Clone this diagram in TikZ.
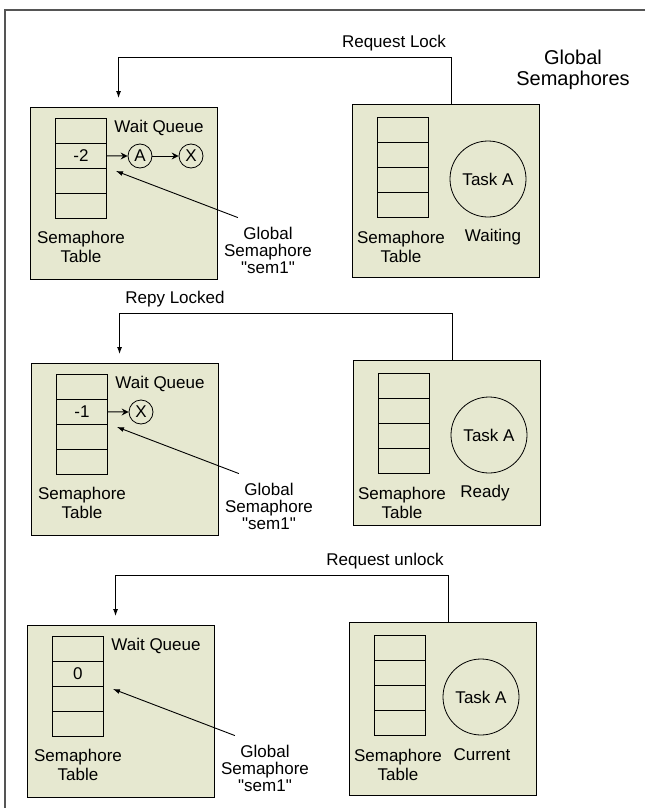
\documentclass[tikz,border=0pt]{standalone}
\usepackage{fontspec}
\setmainfont{Liberation Sans}[Ligatures=TeXOff]
\usetikzlibrary{arrows.meta,calc}

\definecolor{panel}{RGB}{230,232,208}
\definecolor{framegray}{RGB}{85,85,85}

\tikzset{
  every node/.style={font=\fontsize{17}{18}\selectfont, inner sep=0pt},
  panelbox/.style={draw=black, line width=1.1pt, fill=panel,
    minimum width=187pt, minimum height=#1, anchor=north west},
  cell/.style={draw=black, line width=0.9pt, minimum width=51pt,
    minimum height=25pt, anchor=north west},
  qnode/.style={circle, draw, line width=0.8pt, minimum size=24pt},
  tasknode/.style={circle, draw, line width=0.8pt, minimum size=76pt},
  lbltwo/.style={align=center, font=\fontsize{17}{19}\selectfont},
  lblthree/.style={align=center, font=\fontsize{17}{17}\selectfont},
  title/.style={font=\fontsize{20}{20}\selectfont, anchor=base},
  conn/.style={line width=0.9pt, -{Latex[length=7pt,width=5pt]}},
  msg/.style={line width=0.9pt, shorten >=9pt, -{Latex[length=7pt,width=5pt]}},
  qarr/.style={line width=1pt, -{Stealth[length=7pt,width=7pt,inset=2.5pt]}},
}

\begin{document}
\begin{tikzpicture}[x=1pt,y=-1pt]
\useasboundingbox (0,0) rectangle (645,808);

% outer frame (top and left edges only)
\draw[framegray, line width=2pt] (645,10) -- (5,10) -- (5,808);

\node[title] (gsemA) at (573,65) {Global};
\node[title] (gsemB) at (573,85) {Semaphores};

% ---------------- step 1: request lock ----------------
\begin{scope}[shift={(0,0)}]
  \node[panelbox=172pt] (lb1) at (30,107) {};
  \node[cell] (t1a) at (55,118) {};
  \node[cell] (t1b) at (55,143) {-2};
  \node[cell] (t1c) at (55,168) {};
  \node[cell] (t1d) at (55,193) {};
  \node (wq1) at (159,128) {Wait Queue};
  \node[qnode] (qa1) at (140,156) {A};
  \node[qnode] (qx1) at (191,156) {X};
  \draw[qarr] (t1b.east) -- (qa1.west);
  \draw[qarr] (qa1.east) -- (qx1.west);
  \node[lbltwo] (st1) at (81,247) {Semaphore\\Table};
  \node[lblthree] (g1) at (268,250) {Global\\Semaphore\\"sem1"};
  \draw[conn] ([xshift=14pt,yshift=9pt]g1.north west) -- ($(t1c.north east)+(9,3)$);

  \node[panelbox=173pt] (rb1) at (352,104) {};
  \node[cell] (r1a) at (377,117) {};
  \node[cell] (r1b) at (377,142) {};
  \node[cell] (r1c) at (377,167) {};
  \node[cell] (r1d) at (377,192) {};
  \node[tasknode] (task1) at (488,179) {Task A};
  \node[lbltwo] (rst1) at (401,247) {Semaphore\\Table};
  \node (state1) at (493,237) {Waiting};

  \draw[msg] ([xshift=5.5pt]rb1.north) -- ++(0,-47) -| ([xshift=-5.5pt]lb1.north);
  \node (m1) at (394,43) {Request Lock};
\end{scope}

% ---------------- step 2: reply locked ----------------
\begin{scope}[shift={(1,256)}]
  \node[panelbox=172pt] (lb2) at (30,107) {};
  \node[cell] (t2a) at (55,118) {};
  \node[cell] (t2b) at (55,143) {-1};
  \node[cell] (t2c) at (55,168) {};
  \node[cell] (t2d) at (55,193) {};
  \node (wq2) at (159,128) {Wait Queue};
  \node[qnode] (qx2) at (140,156) {X};
  \draw[qarr] (t2b.east) -- (qx2.west);
  \node[lbltwo] (st2) at (81,247) {Semaphore\\Table};
  \node[lblthree] (g2) at (268,250) {Global\\Semaphore\\"sem1"};
  \draw[conn] ([xshift=14pt,yshift=9pt]g2.north west) -- ($(t2c.north east)+(9,3)$);

  \node[panelbox=165pt] (rb2) at (352,104) {};
  \node[cell] (r2a) at (377,117) {};
  \node[cell] (r2b) at (377,142) {};
  \node[cell] (r2c) at (377,167) {};
  \node[cell] (r2d) at (377,192) {};
  \node[tasknode] (task2) at (488,179) {Task A};
  \node[lbltwo] (rst2) at (401,247) {Semaphore\\Table};
  \node (state2) at (484,237) {Ready};

  \draw[msg] ([xshift=5.5pt]rb2.north) -- ++(0,-47) -| ([xshift=-5.5pt]lb2.north);
  \node (m2) at (174,43) {Repy Locked};
\end{scope}

% ---------------- step 3: request unlock ----------------
\begin{scope}[shift={(-3,518)}]
  \node[panelbox=172pt] (lb3) at (30,107) {};
  \node[cell] (t3a) at (55,118) {};
  \node[cell] (t3b) at (55,143) {0};
  \node[cell] (t3c) at (55,168) {};
  \node[cell] (t3d) at (55,193) {};
  \node (wq3) at (159,128) {Wait Queue};
  \node[lbltwo] (st3) at (81,247) {Semaphore\\Table};
  \node[lblthree] (g3) at (268,250) {Global\\Semaphore\\"sem1"};
  \draw[conn] ([xshift=14pt,yshift=9pt]g3.north west) -- ($(t3c.north east)+(9,3)$);

  \node[panelbox=173pt] (rb3) at (352,104) {};
  \node[cell] (r3a) at (377,117) {};
  \node[cell] (r3b) at (377,142) {};
  \node[cell] (r3c) at (377,167) {};
  \node[cell] (r3d) at (377,192) {};
  \node[tasknode] (task3) at (484,179) {Task A};
  \node[lbltwo] (rst3) at (401,247) {Semaphore\\Table};
  \node (state3) at (485,237) {Current};

  \draw[msg] ([xshift=5.5pt]rb3.north) -- ++(0,-47) -| ([xshift=-5.5pt]lb3.north);
  \node (m3) at (388,43) {Request unlock};
\end{scope}
\end{tikzpicture}
\end{document}
